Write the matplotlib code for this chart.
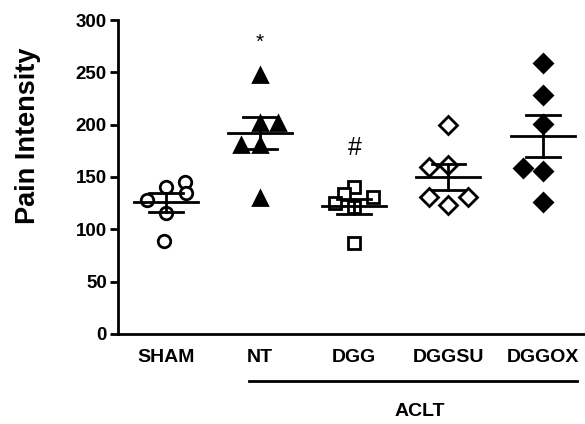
import numpy as np
import matplotlib.pyplot as plt

plt.rcParams['font.family'] = ['Liberation Sans', 'DejaVu Sans']

groups = ['SHAM', 'NT', 'DGG', 'DGGSU', 'DGGOX']
sham = [145, 135, 140, 128, 116, 89]
nt = [247, 202, 202, 181, 181, 130]
dgg = [140, 134, 131, 125, 121, 87]
dggsu = [200, 160, 161, 131, 123, 131]
dggox = [259, 228, 201, 159, 156, 126]
values = [sham, nt, dgg, dggsu, dggox]

# mean and SEM
means = [126, 192, 122, 150, 189]
sems = [9, 15.5, 7, 12.5, 20]

# horizontal scatter of points within each group
jitter = [[0.2, 0.21, 0.0, -0.2, 0.0, -0.02],
          [0.0, 0.0, 0.19, -0.2, 0.0, 0.0],
          [0.0, -0.11, 0.2, -0.21, 0.0, 0.0],
          [0.0, -0.21, 0.0, -0.21, 0.0, 0.21],
          [0.0, 0.0, 0.0, -0.21, 0.0, 0.0]]

markers = ['o', '^', 's', 'D', 'D']
filled = [False, True, False, False, True]
msize = [9, 10, 9, 9, 9]

fig = plt.figure(figsize=(5.85, 4.24), dpi=100)
ax = fig.add_axes([0.2017, 0.2123, 0.7983, 0.7405])

for i, vals in enumerate(values):
    x = i + np.array(jitter[i])
    fc = 'black' if filled[i] else 'white'
    ax.plot(x, vals, linestyle='none', marker=markers[i], ms=msize[i],
            mfc=fc, mec='black', mew=2, zorder=3)
    m, s = means[i], sems[i]
    ax.plot([i - 0.34, i + 0.34], [m, m], color='black', lw=2, zorder=4)
    ax.plot([i - 0.18, i + 0.18], [m + s, m + s], color='black', lw=2, zorder=4)
    ax.plot([i - 0.18, i + 0.18], [m - s, m - s], color='black', lw=2, zorder=4)
    ax.plot([i, i], [m - s, m + s], color='black', lw=2, zorder=4)

ax.text(1, 279, '*', ha='center', va='center', fontsize=15)
ax.text(2, 178, '#', ha='center', va='center', fontsize=18)

ax.set_xlim(-0.51, 4.45)
ax.set_ylim(0, 300)
ax.set_yticks([0, 50, 100, 150, 200, 250, 300])
ax.set_xticks(range(len(groups)))
ax.set_xticklabels(groups, fontsize=14, fontweight='bold')
ax.tick_params(axis='x', length=0, pad=11)
ax.tick_params(axis='y', length=6, width=2, labelsize=13.5, pad=2)
for lab in ax.get_yticklabels():
    lab.set_fontweight('bold')
ax.spines['top'].set_visible(False)
ax.spines['right'].set_visible(False)
ax.spines['left'].set_linewidth(2)
ax.spines['bottom'].set_linewidth(2)
ax.set_ylabel('Pain Intensity', fontsize=19.5, fontweight='bold')
ax.yaxis.set_label_coords(-0.165, 0.63)

# ACLT bracket under the treated groups
ax.plot([0.88, 4.36], [-45, -45], color='black', lw=2, clip_on=False)
ax.text(2.69, -74, 'ACLT', ha='center', va='center', fontsize=14,
        fontweight='bold')

fig.savefig('out.png', dpi=100)
